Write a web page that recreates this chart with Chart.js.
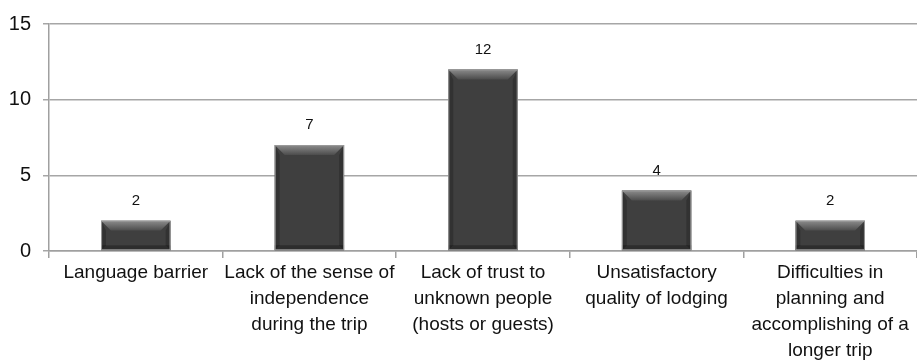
<!DOCTYPE html>
<html>
<head>
<meta charset="utf-8">
<script src="https://cdn.jsdelivr.net/npm/chart.js@4/dist/chart.umd.min.js"></script>
<style>
    html, body { margin: 0; padding: 0; background: #fff; }
    #wrap { width: 917px; height: 363px; }
</style>
</head>
<body>
<div id="wrap"><canvas id="barChart"></canvas></div>
<script>
/* ====================================
   DATA
==================================== */

const categories = [
    ["Language barrier"],
    ["Lack of the sense of", "independence", "during the trip"],
    ["Lack of trust to", "unknown people", "(hosts or guests)"],
    ["Unsatisfactory", "quality of lodging"],
    ["Difficulties in", "planning and", "accomplishing of a", "longer trip"]
];

const counts = [2, 7, 12, 4, 2];

const yTicks = [0, 5, 10, 15];

const FONT = "'Liberation Sans', Arial, sans-serif";

/* ====================================
   BEVEL + LABEL PLUGIN
==================================== */

const bevelPlugin = {
    id: "bevel",
    afterDatasetsDraw(chart) {
        const ctx = chart.ctx;
        const meta = chart.getDatasetMeta(0);
        meta.data.forEach((bar, i) => {
            const left = bar.x - bar.width / 2;
            const right = bar.x + bar.width / 2;
            const top = bar.y;
            const bottom = bar.base;
            const b = Math.min(10, (bottom - top) / 3);

            ctx.save();
            // top bevel
            let g = ctx.createLinearGradient(0, top, 0, top + b);
            g.addColorStop(0, "#8c8c8c");
            g.addColorStop(1, "#4c4c4c");
            ctx.fillStyle = g;
            ctx.beginPath();
            ctx.moveTo(left, top);
            ctx.lineTo(right, top);
            ctx.lineTo(right - b, top + b);
            ctx.lineTo(left + b, top + b);
            ctx.closePath();
            ctx.fill();

            // side bevels
            ctx.fillStyle = "rgba(0,0,0,0.2)";
            ctx.beginPath();
            ctx.moveTo(left, top);
            ctx.lineTo(left + b * 0.5, top + b);
            ctx.lineTo(left + b * 0.5, bottom - b * 0.5);
            ctx.lineTo(left, bottom);
            ctx.closePath();
            ctx.fill();
            ctx.beginPath();
            ctx.moveTo(right, top);
            ctx.lineTo(right - b * 0.5, top + b);
            ctx.lineTo(right - b * 0.5, bottom - b * 0.5);
            ctx.lineTo(right, bottom);
            ctx.closePath();
            ctx.fill();

            // bottom band
            ctx.fillStyle = "rgba(0,0,0,0.28)";
            ctx.fillRect(left, bottom - b * 0.5, right - left, b * 0.5);

            // outline
            ctx.strokeStyle = "#9a9a9a";
            ctx.lineWidth = 1;
            ctx.strokeRect(left + 0.5, top + 0.5, right - left - 1, bottom - top - 1);

            // value label
            ctx.fillStyle = "#111";
            ctx.font = "15px " + FONT;
            ctx.textAlign = "center";
            ctx.textBaseline = "middle";
            ctx.fillText(String(counts[i]), bar.x, top - 20);
            ctx.restore();
        });
    }
};

/* ====================================
   CHART
==================================== */

new Chart(document.getElementById("barChart"), {
    type: "bar",
    data: {
        labels: categories,
        datasets: [{
            data: counts,
            backgroundColor: "#3f3f3f",
            borderWidth: 0,
            barPercentage: 0.4,
            categoryPercentage: 1
        }]
    },
    options: {
        responsive: true,
        maintainAspectRatio: false,
        animation: false,
        layout: { padding: { top: 18, right: 0, left: 0, bottom: 0 } },
        plugins: {
            legend: { display: false },
            tooltip: { enabled: false }
        },
        scales: {
            x: {
                afterFit(scale) { scale.height = 112; },
                grid: {
                    offset: true,
                    drawOnChartArea: false,
                    drawTicks: true,
                    tickLength: 7,
                    color: "#a0a0a0",
                    lineWidth: 1.5
                },
                border: { color: "#a0a0a0", width: 1.5 },
                ticks: {
                    color: "#111",
                    maxRotation: 0,
                    autoSkip: false,
                    padding: 2,
                    font: { family: FONT, size: 19, lineHeight: 1.37 }
                }
            },
            y: {
                min: 0,
                max: 15,
                afterFit(scale) { scale.width = 49; },
                afterBuildTicks(scale) {
                    scale.ticks = yTicks.map(v => ({ value: v }));
                },
                grid: {
                    color: "#a6a6a6",
                    lineWidth: 1.5,
                    tickLength: 6
                },
                border: { color: "#a0a0a0", width: 1.5 },
                ticks: {
                    color: "#111",
                    padding: 12,
                    font: { family: FONT, size: 20 }
                }
            }
        }
    },
    plugins: [bevelPlugin]
});
</script>
</body>
</html>
